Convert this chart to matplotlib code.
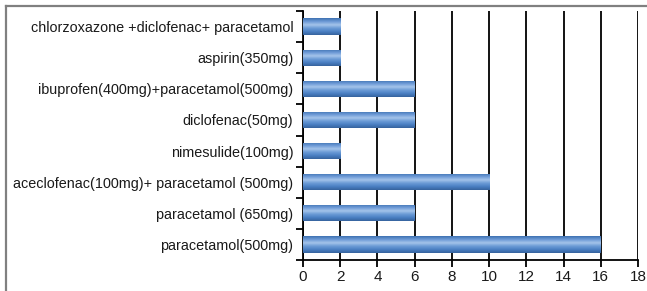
import matplotlib
matplotlib.use("Agg")
import matplotlib.pyplot as plt
import numpy as np
from matplotlib.lines import Line2D
from matplotlib.colors import LinearSegmentedColormap

categories = ["paracetamol(500mg)", "paracetamol (650mg)",
              "aceclofenac(100mg)+ paracetamol (500mg)", "nimesulide(100mg)",
              "diclofenac(50mg)", "ibuprofen(400mg)+paracetamol(500mg)",
              "aspirin(350mg)", "chlorzoxazone +diclofenac+ paracetamol"]
values = [16, 6, 10, 2, 6, 6, 2, 2]
xticks = [0, 2, 4, 6, 8, 10, 12, 14, 16, 18]

plt.rcParams['font.family'] = ['Liberation Sans', 'DejaVu Sans']
W, H = 647, 291
fig = plt.figure(figsize=(W/100, H/100), dpi=100)
ax = fig.add_axes([303/W, 1-260/H, (638-303)/W, (260-11)/H])

y = np.arange(len(categories))
bars = ax.barh(y, values, height=0.52, color="#4a7ebb", edgecolor="none", zorder=3)

cmap = LinearSegmentedColormap.from_list("g", ["#3f72b2", "#6d9ad6", "#a4c4ea", "#6a9ad6", "#4a7fc2", "#36639e"])
grad = np.linspace(0, 1, 64).reshape(-1, 1)
for b in bars:
    x0, y0, w, h = b.get_x(), b.get_y(), b.get_width(), b.get_height()
    im = ax.imshow(grad, extent=(x0, x0 + w, y0 + h, y0), aspect='auto', cmap=cmap,
                   zorder=4, origin='lower')
    im.set_clip_path(b)
ax.set_xlim(0, 18)
ax.set_ylim(-0.5, len(categories) - 0.5)
ax.set_xticks(xticks)
ax.set_xticklabels([str(t) for t in xticks], fontsize=11, color='#1a1a1a')
ax.set_yticks(y)
ax.set_yticklabels(categories, fontsize=10.4, color='#1a1a1a')
ax.tick_params(axis='y', length=0, pad=7)
ax.set_yticks(np.arange(-0.5, len(categories)), minor=True)
ax.tick_params(axis='y', which='minor', length=5, width=1.3, color='black')
ax.tick_params(axis='x', length=5, width=1.3, pad=2)
ax.grid(axis='x', color='black', linewidth=1.3, zorder=0)
for s in ['top', 'right']:
    ax.spines[s].set_visible(False)
ax.spines['left'].set_linewidth(1.3)
ax.spines['bottom'].set_linewidth(1.3)

fig.add_artist(Line2D([6/W, 1], [1-6/H, 1-6/H], color='#808080', linewidth=1.6))
fig.add_artist(Line2D([6/W, 6/W], [0, 1-6/H], color='#808080', linewidth=1.6))

fig.savefig("out.png", dpi=100)
